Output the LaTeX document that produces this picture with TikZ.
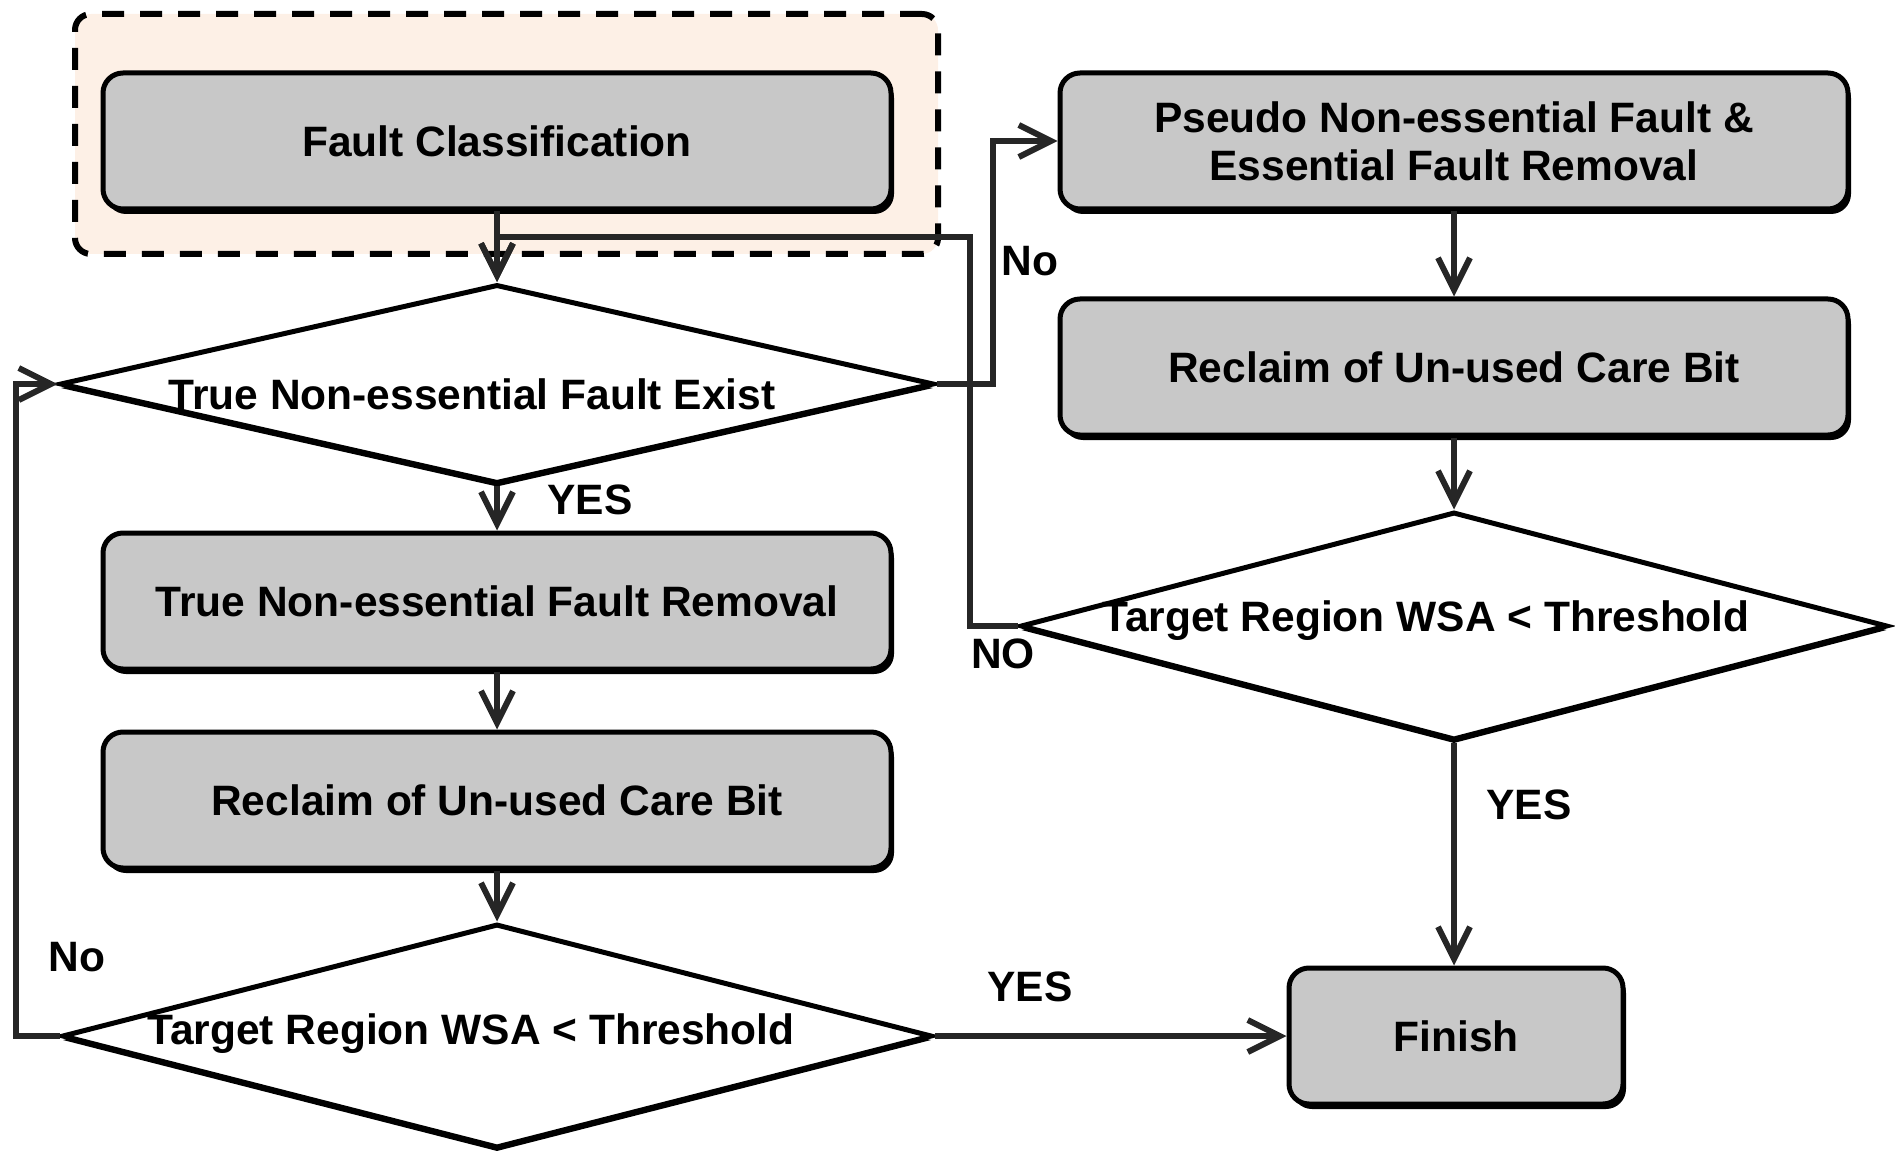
\documentclass[tikz,border=0pt]{standalone}
\usepackage{fontspec}
\setmainfont{Liberation Sans}
\usetikzlibrary{arrows.meta,shapes.geometric,shadows,calc}
\definecolor{boxgray}{HTML}{C8C8C8}
\definecolor{peach}{HTML}{FDF0E6}
\definecolor{linegray}{HTML}{262626}
\begin{document}
\begin{tikzpicture}[x=0.5pt,y=-0.5pt,
  every node/.style={font=\bfseries\fontsize{21.25}{24}\selectfont},
  groupbox/.style={draw=black, line width=3pt, dash pattern=on 11pt off 8pt, fill=peach, rounded corners=8pt, inner sep=0pt},
  procbox/.style={draw=black, line width=2.5pt, fill=boxgray, rounded corners=10pt, minimum width=394pt, minimum height=68pt, inner sep=0pt, align=center,
    drop shadow={shadow xshift=1.5pt, shadow yshift=-2.5pt, fill=black, opacity=1}},
  decision/.style={diamond, draw=black, line width=2.5pt, fill=white, inner sep=0pt,
    drop shadow={shadow xshift=0pt, shadow yshift=-2pt, fill=black, opacity=1}},
  conn/.style={draw=linegray, line width=3pt, -{Straight Barb[length=16pt,width=16pt]}},
  lbl/.style={inner sep=0pt}
]
\useasboundingbox (0,0) rectangle (1895,1155);

% group
\node[groupbox, minimum width=431.5pt, minimum height=120pt] (grp) at (506.5,134) {};

% left column
\node[procbox] (fc) at (497,141) {Fault Classification};
\node[decision, minimum width=437pt, minimum height=99.5pt,
  label={[lbl, xshift=-12.5pt, yshift=-5pt]center:True Non-essential Fault Exist}] (d1) at (497,384) {};
\node[procbox] (tr) at (497,601) {True Non-essential Fault Removal};
\node[procbox] (rl) at (497,800) {Reclaim of Un-used Care Bit};
\node[decision, minimum width=435pt, minimum height=112pt,
  label={[lbl, xshift=-13pt, yshift=1pt]center:Target Region WSA < Threshold}] (d2) at (497,1036) {};

% right column
\node[procbox] (ps) at (1454,141) {Pseudo Non-essential Fault \&\\Essential Fault Removal};
\node[procbox] (rr) at (1454,367) {Reclaim of Un-used Care Bit};
\node[decision, minimum width=433.5pt, minimum height=114pt,
  label={[lbl, xshift=-14pt, yshift=2.5pt]center:Target Region WSA < Threshold}] (d3) at (1454,626) {};
\node[procbox, minimum width=167pt] (fin) at (1456,1036) {Finish};

% connectors
\coordinate (j1) at (497,237);
\draw[conn] (fc.south) -- (d1.north);
\draw[conn] (d1.south) -- (tr.north);
\draw[conn] (tr.south) -- (rl.north);
\draw[conn] (rl.south) -- (d2.north);
\draw[conn] (d2.east) -- (fin.west);
\draw[conn] (d2.west) -- ++(-44,0) |- (d1.west);
\draw[conn] (d1.east) -- ++(56,0) |- (ps.west);
\draw[conn] (ps.south) -- (rr.north);
\draw[conn] (rr.south) -- (d3.north);
\draw[conn] (d3.west) -- ++(-48,0) |- (j1) -- (d1.north);
\draw[conn] (d3.south) -- (d3.south |- fin.north);

% labels
\node[lbl] (yes1) at (590,500) {YES};
\node[lbl] (no1) at (1030,261) {No};
\node[lbl] (no2) at (1003,654) {NO};
\node[lbl] (yes2) at (1529,805) {YES};
\node[lbl] (no3) at (77,957) {No};
\node[lbl] (yes3) at (1030,987) {YES};
\end{tikzpicture}
\end{document}
